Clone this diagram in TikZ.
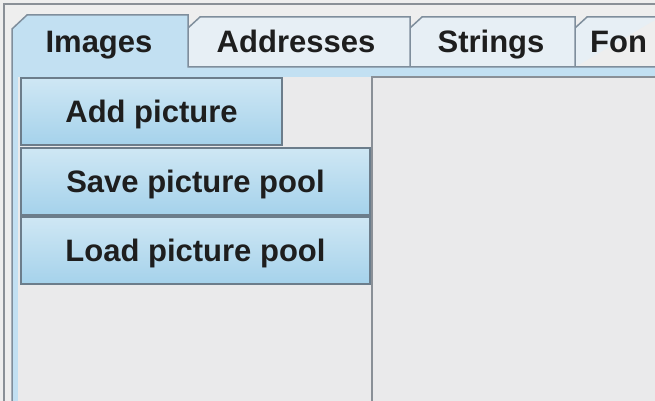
\documentclass[tikz,border=0pt]{standalone}
\usepackage{fontspec}
\setmainfont{Liberation Sans}
\usepackage{tikz}
\usetikzlibrary{positioning}

\definecolor{winbg}{HTML}{EEEEEE}
\definecolor{framegrey}{HTML}{8A9097}
\definecolor{selblue}{HTML}{C2E0F2}
\definecolor{tabfill}{HTML}{E7EFF5}
\definecolor{tabline}{HTML}{7F8E9C}
\definecolor{btntop}{HTML}{CFE7F4}
\definecolor{btnmid}{HTML}{F8FCFE}
\definecolor{btnbottom}{HTML}{A5D2EB}
\definecolor{btnborder}{HTML}{6C7D8B}
\definecolor{panelgrey}{HTML}{EAEAEB}
\definecolor{txtgrey}{HTML}{1E1E1E}

\begin{document}
\begin{tikzpicture}[x=1pt, y=-1pt,
tablabel/.style={inner sep=0pt, anchor=base, text=txtgrey, font=\bfseries\fontsize{31}{31}\selectfont},
button/.style={rectangle, draw=btnborder, line width=2pt, top color=btntop, middle color=btnmid, bottom color=btnbottom, minimum height=67pt, inner sep=0pt, text height=22pt, text depth=0pt, text=txtgrey, font=\bfseries\fontsize{31}{31}\selectfont},
tabshape/.style={draw=tabline, line width=1.5pt, fill=tabfill},
]
\useasboundingbox (0,0) rectangle (655,401);
\clip (0,0) rectangle (655,401);

%Window
\fill[winbg] (0,0) rectangle (655,401);
\draw[framegrey, line width=2pt] (4,401) -- (4,4) -- (655,4);

%Tabs
\draw[tabshape] (575,67) -- (575,28) -- (587,17) -- (660,17);
\draw[tabshape] (410,67) -- (410,28) -- (422,17) -- (575,17) -- (575,67);
\draw[tabshape] (188,67) -- (188,28) -- (200,17) -- (410,17) -- (410,67);
\fill[selblue] (12,401) -- (12,29) -- (27,15) -- (188,15) -- (188,67) -- (655,67) -- (655,77) -- (18,77) -- (18,401) -- cycle;
\draw[tabline, line width=1.5pt] (12,401) -- (12,29) -- (27,15) -- (188,15) -- (188,67) -- (655,67);

\node[tablabel] (images)    at (99,53) {Images};
\node[tablabel] (addresses) at (296,53) {Addresses};
\node[tablabel] (strings)   at (491,53) {Strings};
\node[tablabel, anchor=base west] (fonts) at (590,53) {Fon};

%Panels
\fill[panelgrey] (18,77) rectangle (372,401);
\fill[panelgrey] (372,77) rectangle (655,401);
\draw[framegrey, line width=2pt] (372,401) -- (372,77) -- (655,77);

%Buttons
\node[button, minimum width=261pt, anchor=north west] (add) at (20,77) {Add picture};
\node[button, minimum width=349pt] (save) [below=0.5pt of add.south west, anchor=north west] {Save picture pool};
\node[button, minimum width=349pt] (load) [below=0.5pt of save.south west, anchor=north west] {Load picture pool};
\end{tikzpicture}
\end{document}
